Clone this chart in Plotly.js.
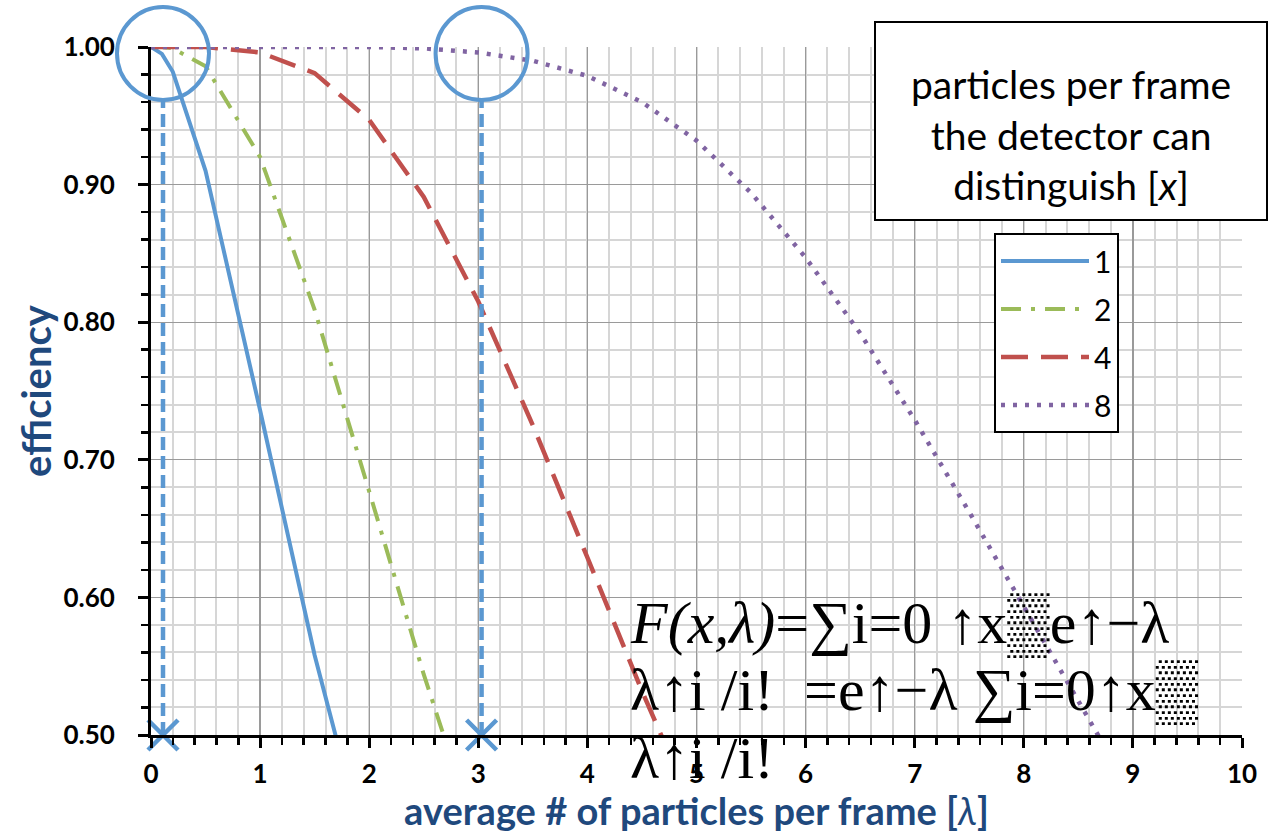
<!DOCTYPE html>
<html><head><meta charset="utf-8">
<script src="https://cdn.plot.ly/plotly-3.0.1.min.js"></script>
<style>html,body{margin:0;padding:0;background:#fff;} #chart{width:1272px;height:833px;}</style>
</head><body><div id="chart"></div>
<script>
// average # of particles per frame (lambda)
const lambda = [0, 0.1, 0.2, 0.5, 1, 1.5, 2, 2.5, 3, 3.5, 4, 4.5, 5, 5.5, 6, 6.5, 7, 7.5, 8, 8.5, 9];
// efficiency for detectors distinguishing x particles per frame
const eff1 = [1.000, 0.995, 0.982, 0.910, 0.736, 0.558, 0.406];
const eff2 = [1.000, 1.000, 0.999, 0.986, 0.920, 0.809, 0.677, 0.544, 0.423];
const eff4 = [1.000, 1.000, 1.000, 1.000, 0.996, 0.981, 0.947, 0.891, 0.815, 0.725, 0.629, 0.532, 0.441];
const eff8 = [1.000, 1.000, 1.000, 1.000, 1.000, 1.000, 1.000, 0.999, 0.996, 0.990, 0.979, 0.960, 0.932, 0.894, 0.847, 0.792, 0.729, 0.662, 0.593, 0.523, 0.456];
const seriesNames = ['1', '2', '4', '8'];
// highlighted operating points (lambda)
const markLambda = [0.11, 3.03];
const markEff = [0.5, 0.5];

const xTickVals = [0,1,2,3,4,5,6,7,8,9,10];
const xTickText = ['0','1','2','3','4','5','6','7','8','9','10'];
const xRange = [0, 10];
const yRange = [0.5, 1.0];

const cBlue = 'rgb(91,152,209)';
const cGreen = 'rgb(155,187,89)';
const cRed = 'rgb(192,80,77)';
const cPurple = 'rgb(128,100,162)';
const titleBlue = '#1F497D';
const sans = 'Lato, "Open Sans", sans-serif';

const seriesY = [eff1, eff2, eff4, eff8];
const styles = [
  {color: cBlue, width: 4, dash: 'solid'},
  {color: cGreen, width: 4, dash: '20px,10px,4px,10px'},
  {color: cRed, width: 4.5, dash: '27px,13px'},
  {color: cPurple, width: 4.5, dash: '4px,8px'}
];

const traces = seriesY.map((ys, i) => ({
  type: 'scatter', mode: 'lines', name: seriesNames[i],
  x: lambda.slice(0, ys.length), y: ys,
  line: styles[i], legendgroup: 'g' + i, hoverinfo: 'skip'
}));

traces.push({
  type: 'scatter', mode: 'markers', x: markLambda, y: markEff,
  showlegend: false, cliponaxis: false, hoverinfo: 'skip',
  marker: {symbol: 'x-thin', size: 30, color: cBlue, line: {color: cBlue, width: 4.5}}
});

const shapes = [];
markLambda.forEach(l => {
  shapes.push({type: 'line', xref: 'x', yref: 'y', x0: l, x1: l, y0: 0.5, y1: 0.9615,
    line: {color: cBlue, width: 4.5, dash: '13px,6px'}, layer: 'above'});
  const px = (l - xRange[0]) / (xRange[1] - xRange[0]);
  shapes.push({type: 'circle', xref: 'paper', yref: 'paper', xsizemode: 'pixel', ysizemode: 'pixel',
    xanchor: px, yanchor: 1.0, x0: -46, x1: 46, y0: -53, y1: 40,
    line: {color: cBlue, width: 4}, layer: 'above'});
});
// text box frame
shapes.push({type: 'rect', xref: 'paper', yref: 'paper',
  x0: (875-151)/1091, x1: (1267-151)/1091, y0: (735-220)/688, y1: (735-22)/688,
  fillcolor: '#fff', line: {color: '#000', width: 2}, layer: 'above'});

const fFont = {family: '"Liberation Serif", "DejaVu Serif", serif', size: 60, color: '#000'};
const fx = (628-151)/1091;
const annotations = [
  {xref: 'paper', yref: 'paper', x: (1071-151)/1091, y: (735-134)/688, xanchor: 'center', yanchor: 'middle',
   text: 'particles per frame<br>the detector can<br>distinguish [<i>x</i>]',
   showarrow: false, align: 'center',
   font: {family: sans, size: 39, color: '#000'}},
  {xref: 'paper', yref: 'paper', x: fx, y: (735-624)/688, xanchor: 'left', yanchor: 'middle',
   text: '<i>F(x,λ)</i>=∑i=0\u00A0↑x▒e↑−λ', showarrow: false, font: fFont},
  {xref: 'paper', yref: 'paper', x: fx, y: (735-691)/688, xanchor: 'left', yanchor: 'middle',
   text: 'λ↑i /i!\u00A0\u00A0=e↑−λ ∑i=0↑x▒', showarrow: false, font: fFont},
  {xref: 'paper', yref: 'paper', x: fx, y: (735-758)/688, xanchor: 'left', yanchor: 'middle',
   text: 'λ↑i /i!', showarrow: false, font: fFont}
];

const tickFont = {family: sans, size: 26, color: '#000', weight: 'bold'};
const layout = {
  width: 1272, height: 833,
  margin: {l: 151, r: 30, t: 47, b: 98},
  paper_bgcolor: '#fff', plot_bgcolor: '#fff',
  showlegend: true,
  legend: {x: (994-151)/1091, y: (735-233)/688, xanchor: 'left', yanchor: 'top',
    bgcolor: '#fff', bordercolor: '#000', borderwidth: 2, tracegroupgap: 6, itemwidth: 88,
    font: {family: sans, size: 30, color: '#000'}},
  xaxis: {
    range: xRange, tickvals: xTickVals, ticktext: xTickText,
    showline: true, linecolor: '#000', linewidth: 3,
    ticks: 'outside', ticklen: 10, tickwidth: 3, tickcolor: '#000',
    showgrid: true, gridcolor: '#9A9A9A', gridwidth: 1.3, zeroline: false,
    minor: {dtick: 0.2, ticks: 'outside', ticklen: 7, tickwidth: 2.5, tickcolor: '#000',
      showgrid: true, gridcolor: '#D6D6D6', gridwidth: 2},
    tickfont: tickFont, ticklabelstandoff: 4,
    title: {text: 'average # of particles per frame [<i style="font-weight:normal">λ</i>]', standoff: 12,
      font: {family: sans, size: 38, color: titleBlue, weight: 'bold'}}
  },
  yaxis: {
    range: yRange, dtick: 0.1, tick0: 0.5, tickformat: '.2f',
    showline: true, linecolor: '#000', linewidth: 3,
    ticks: 'outside', ticklen: 10, tickwidth: 3, tickcolor: '#000',
    showgrid: true, gridcolor: '#9A9A9A', gridwidth: 1.3, zeroline: false,
    minor: {dtick: 0.02, ticks: 'outside', ticklen: 7, tickwidth: 2.5, tickcolor: '#000',
      showgrid: true, gridcolor: '#D6D6D6', gridwidth: 2},
    tickfont: tickFont, ticklabelstandoff: 18,
    title: {text: 'efficiency', standoff: 0,
      font: {family: sans, size: 40, color: titleBlue, weight: 'bold'}}
  },
  shapes: shapes,
  annotations: annotations
};

Plotly.newPlot('chart', traces, layout, {displayModeBar: false, staticPlot: true});
</script>
</body></html>
